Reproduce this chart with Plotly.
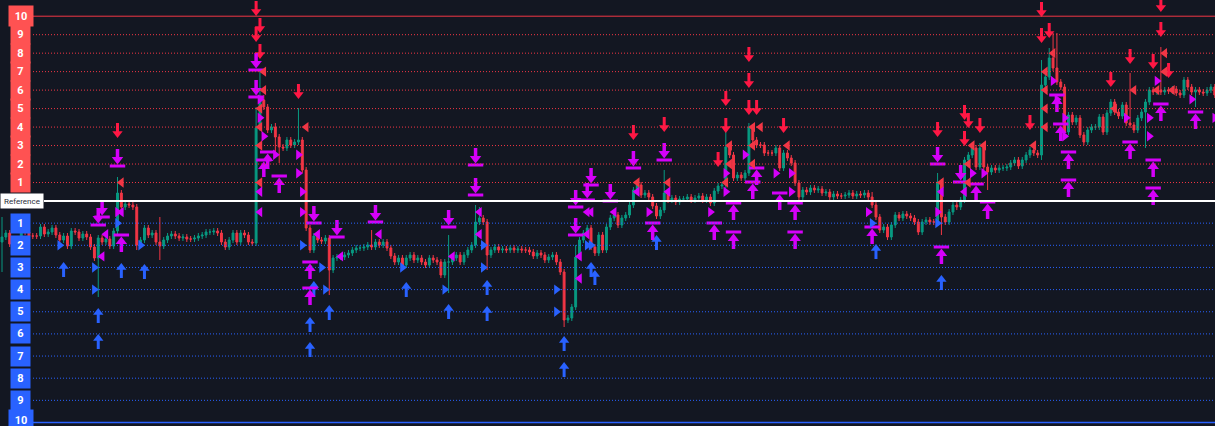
import plotly.graph_objects as go

# ---------------- data ----------------
REF = 100.0          # reference price
UP_STEP = 1.848      # distance between upper levels
DN_STEP = 2.215      # distance between lower levels

first_open = 95.9
closes = [
    96.4, 96.8, 95.7, 95.4, 96.0, 97.5, 96.9, 96.5, 96.5, 96.5,
    97.4, 96.7, 96.9, 97.3, 96.6, 96.1, 96.5, 95.5, 97.0, 96.9,
    96.3, 96.7, 96.4, 95.4, 94.3, 96.3, 95.9, 96.2, 95.5, 97.0,
    100.8, 99.4, 99.7, 99.6, 99.4, 95.6, 96.1, 97.3, 96.6, 96.8,
    95.9, 95.5, 96.1, 96.5, 96.7, 96.5, 96.3, 96.4, 96.2, 96.2,
    96.3, 96.5, 96.6, 96.9, 96.9, 97.0, 96.8, 95.9, 95.4, 96.1,
    96.8, 95.9, 96.8, 96.6, 95.9, 95.8, 107.3, 110.1, 109.4, 107.1,
    107.4, 106.4, 105.4, 105.3, 106.1, 105.6, 105.9, 106.1, 103.1, 97.3,
    95.1, 96.5, 96.1, 96.0, 96.3, 93.1, 94.3, 94.4, 94.4, 94.6,
    94.8, 95.1, 95.3, 95.3, 95.4, 95.6, 95.4, 95.9, 95.6, 95.9,
    95.3, 94.5, 93.9, 94.3, 93.6, 94.3, 94.6, 94.1, 94.3, 93.9,
    93.6, 94.3, 94.1, 93.9, 92.6, 93.9, 93.9, 94.3, 94.6, 93.9,
    94.6, 95.1, 95.6, 97.9, 98.3, 97.9, 94.6, 95.1, 95.4, 95.1,
    95.2, 95.1, 95.3, 95.1, 95.2, 95.1, 95.1, 94.9, 94.5, 94.8,
    94.6, 94.1, 94.4, 94.6, 93.9, 92.9, 88.1, 88.3, 89.4, 94.4,
    96.1, 96.8, 97.3, 95.4, 94.8, 96.6, 95.1, 97.4, 98.3, 98.6,
    97.6, 98.3, 98.6, 99.6, 101.1, 101.6, 100.6, 100.8, 100.4, 99.5,
    98.5, 99.1, 100.8, 100.1, 100.3, 99.9, 100.2, 100.2, 100.4, 100.1,
    100.3, 100.5, 100.1, 100.4, 99.8, 101.0, 101.5, 101.6, 105.4, 104.6,
    102.3, 102.6, 102.3, 102.8, 107.4, 106.1, 105.6, 105.6, 104.8, 104.8,
    104.8, 105.3, 103.3, 104.8, 104.3, 103.8, 101.8, 100.4, 101.1, 100.9,
    101.3, 101.1, 101.2, 100.8, 100.9, 100.4, 100.7, 100.5, 100.5, 100.6,
    100.8, 100.5, 100.7, 100.6, 100.8, 100.4, 99.6, 98.4, 97.1, 97.4,
    96.4, 97.6, 98.6, 98.3, 98.7, 98.5, 98.3, 97.9, 96.9, 97.9,
    98.1, 97.9, 97.9, 101.9, 98.4, 97.9, 98.9, 99.6, 99.4, 100.1,
    104.1, 104.6, 105.3, 103.4, 105.3, 103.4, 102.9, 103.3, 103.1, 103.3,
    103.3, 103.4, 103.8, 104.1, 103.5, 104.1, 104.6, 105.1, 104.8, 104.6,
    111.6, 112.4, 114.3, 113.3, 111.9, 111.4, 106.9, 108.6, 107.9, 108.3,
    106.6, 105.9, 107.1, 107.4, 107.4, 108.4, 106.9, 108.8, 109.9, 108.9,
    108.5, 109.6, 107.8, 107.6, 107.1, 108.3, 108.9, 109.9, 111.1, 110.9,
    111.1, 110.9, 111.1, 111.0, 111.2, 110.8, 110.6, 112.1, 111.4, 110.9,
    111.1, 110.9, 110.8, 111.1, 111.4, 110.6,
]
# candles whose wick clearly stands out
high_spikes = {0: 98.4, 30: 102.4, 41: 98.4, 66: 109.4, 67: 113.1, 68: 110.6,
               71: 107.8, 77: 109.3, 96: 97.1, 116: 96.6, 123: 99.6, 124: 99.4,
               149: 95.6, 172: 103.1, 188: 106.9, 194: 107.8, 226: 100.9,
               243: 102.8, 254: 105.8, 270: 114.1, 272: 115.3, 273: 116.8,
               274: 116.8, 293: 112.8, 301: 115.4}
low_spikes = {0: 92.9, 25: 90.4, 35: 95.1, 41: 94.1, 72: 103.8, 71: 104.4,
              85: 90.6, 116: 90.8, 126: 93.1, 146: 87.4, 244: 96.6, 256: 101.1,
              270: 104.1, 297: 105.3, 310: 109.4}
WICK = 0.3

# signal arrows: (bar index, price at the arrow tip / bar)
red_down = [(66, 118.5), (67, 116.8), (66, 115.9), (67, 114.2), (30, 106.3),
            (77, 110.2), (164, 106.1), (172, 106.9), (188, 109.5), (188, 106.8),
            (186, 103.4), (194, 113.9), (194, 111.3), (194, 108.6), (196, 108.6),
            (203, 106.8), (243, 106.4), (250, 108.1), (251, 107.3), (254, 106.8),
            (250, 105.5), (267, 107.1), (270, 118.4), (272, 116.3), (270, 115.8),
            (288, 111.4), (293, 113.7), (299, 113.2), (301, 118.9), (301, 116.4),
            (303, 112.3)]
blue_up = [(16, 93.9), (25, 89.3), (25, 86.7), (31, 93.8), (37, 93.7),
           (80, 88.4), (80, 85.9), (81, 92.0), (85, 89.6), (105, 91.9),
           (116, 89.7), (126, 92.1), (126, 89.5), (146, 86.5), (146, 83.9),
           (153, 93.9), (154, 93.1), (170, 96.6), (227, 95.7), (244, 92.6)]
mag_down = [(66, 113.1), (66, 110.4), (30, 103.5), (26, 98.4), (25, 97.6),
            (81, 97.8), (87, 96.4), (97, 97.9), (116, 97.4), (123, 103.6),
            (123, 100.6), (149, 99.4), (149, 96.6), (152, 100.1), (153, 101.6),
            (158, 100.0), (164, 103.3), (172, 104.1), (243, 103.7), (249, 101.9)]
mag_up = [(69, 104.9), (68, 104.1), (72, 102.5), (31, 96.6), (80, 93.9),
          (80, 91.3), (169, 97.8), (185, 97.8), (190, 99.8), (190, 96.9),
          (195, 101.9), (196, 103.3), (202, 100.8), (206, 99.8), (206, 96.9),
          (226, 97.4), (244, 95.4), (253, 101.7), (256, 99.9), (275, 107.7),
          (277, 104.9), (277, 102.1), (274, 110.6), (293, 105.9), (299, 104.1),
          (299, 101.3), (301, 109.7), (310, 108.9)]

# level touches: (bar index, level number; negative = lower levels)
red_left = [(68, 7), (68, 6), (67, 5), (67, 4), (67, 3), (67, 1), (31, 1), (79, 4),
            (165, 1), (173, 1), (188, 1), (189, 2), (189, 3), (195, 4), (197, 4),
            (195, 3), (195, 2), (204, 3), (244, 1), (251, 2), (251, 1), (252, 3),
            (255, 3), (268, 3), (271, 7), (271, 6), (271, 5), (271, 4), (273, 8),
            (294, 6), (289, 5), (302, 8), (302, 7), (300, 6), (304, 6)]
mag_left = [(67, 0.5), (67, -0.5), (31, -0.5), (27, -1.5), (26, -2.5), (82, -1.5),
            (88, -2.5), (98, -1.5), (117, -2.5), (124, -0.5), (124, -1.5),
            (152, -0.5), (153, -0.5), (159, -0.5), (152, -1.5), (150, -2.5),
            (150, -3.5), (165, 0.5), (173, 0.5), (244, 0.5), (250, 0.5)]
mag_right = [(67, 5.5), (67, 4.5), (68, 3.5), (71, 2.5), (77, 2.5), (77, 1.5),
             (78, 0.5), (78, -0.5), (30, -0.5), (168, -0.5), (184, -0.5),
             (188, 0.5), (188, 1.5), (193, 2.5), (201, 1.5), (205, 1.5),
             (205, 0.5), (225, -0.5), (243, -0.5), (252, 1.5), (255, 1.5),
             (273, 6.5), (274, 5.5), (276, 4.5), (276, 3.5), (292, 4.5),
             (298, 4.5), (298, 3.5), (300, 6.5), (309, 5.5), (315, 4.5)]
blue_right = [(15, -2), (24, -3), (24, -4), (30, -1), (36, -2), (78, -2), (83, -3),
              (84, -4), (104, -3), (115, -4), (125, -2), (125, -3), (144, -4),
              (144, -5), (152, -2), (153, -2), (226, -1), (243, -1)]

level_numbers = [1, 2, 3, 4, 5, 6, 7, 8, 9, 10]
ref_label = "Reference"

# ---------------- style ----------------
BG = "#131722"
GREEN = "#089981"
RED = "#f23645"
ARROW_RED = "#ff1744"
MAG = "#d500f9"
BLUE = "#2962ff"
LBL_RED = "#ff5252"
PX = 0.1   # price per screen pixel with the chosen axis range


def lvl(L):
    return REF + (UP_STEP * L if L >= 0 else DN_STEP * L)


n = len(closes)
xs = list(range(n))
opens = [first_open] + closes[:-1]
highs, lows = [], []
for i in xs:
    o, c = opens[i], closes[i]
    highs.append(max(high_spikes.get(i, max(o, c) + WICK), o, c))
    lows.append(min(low_spikes.get(i, min(o, c) - WICK), o, c))

fig = go.Figure()
fig.add_trace(go.Candlestick(
    x=xs, open=opens, high=highs, low=lows, close=closes,
    increasing=dict(line=dict(color=GREEN, width=1), fillcolor=GREEN),
    decreasing=dict(line=dict(color=RED, width=1), fillcolor=RED),
    hoverinfo="skip", whiskerwidth=0))


def shafts(points, d0, d1, color, width):
    x, y = [], []
    for i, p in points:
        x += [i, i, None]
        y += [p + d0 * PX, p + d1 * PX, None]
    fig.add_trace(go.Scatter(x=x, y=y, mode="lines", hoverinfo="skip",
                             line=dict(color=color, width=width)))


def marks(points, d, symbol, color, size, line=None):
    m = dict(symbol=symbol, size=size, color=color)
    if line:
        m["line"] = line
    fig.add_trace(go.Scatter(x=[i for i, _ in points],
                             y=[p + d * PX for _, p in points],
                             mode="markers", marker=m, hoverinfo="skip"))


# red down arrows (tip at price)
shafts(red_down, 15, 5, ARROW_RED, 3)
marks(red_down, 4.5, "triangle-down", ARROW_RED, 9)
# blue up arrows (tip at price)
shafts(blue_up, -15, -5, BLUE, 3)
marks(blue_up, -4.5, "triangle-up", BLUE, 9)
# magenta down arrows with bar below
shafts(mag_down, 17, 7, MAG, 3.5)
marks(mag_down, 6.5, "triangle-down", MAG, 10)
marks(mag_down, 0, "line-ew", MAG, 11, dict(color=MAG, width=3))
# magenta up arrows with bar above
shafts(mag_up, -17, -7, MAG, 3.5)
marks(mag_up, -6.5, "triangle-up", MAG, 10)
marks(mag_up, 0, "line-ew", MAG, 11, dict(color=MAG, width=3))

# level triangles
for pts, sym, col in [(red_left, "triangle-left", RED),
                      (mag_left, "triangle-left", MAG),
                      (mag_right, "triangle-right", MAG),
                      (blue_right, "triangle-right", BLUE)]:
    fig.add_trace(go.Scatter(x=[i for i, _ in pts], y=[lvl(L) for _, L in pts],
                             mode="markers", hoverinfo="skip",
                             marker=dict(symbol=sym, size=9, color=col)))

# level lines
X_START = 33 / 1215
shapes = []
for k in level_numbers:
    top = k == level_numbers[-1]
    shapes.append(dict(type="line", xref="paper", yref="y", x0=X_START, x1=1,
                       y0=lvl(k), y1=lvl(k),
                       line=dict(color=RED, width=1, dash="solid" if top else "1px,2px")))
    shapes.append(dict(type="line", xref="paper", yref="y", x0=X_START, x1=1,
                       y0=lvl(-k), y1=lvl(-k),
                       line=dict(color=BLUE, width=1.5 if top else 1,
                                 dash="solid" if top else "1px,2px")))
shapes.append(dict(type="line", xref="paper", yref="y", x0=44 / 1215, x1=1,
                   y0=REF, y1=REF, line=dict(color="#ffffff", width=2)))

# label boxes
ann = []
for k in level_numbers:
    big = k == level_numbers[-1]
    common = dict(x=21 / 1215, xref="paper", yref="y", xanchor="center",
                  yanchor="middle", showarrow=False, borderpad=0,
                  width=24 if big else 19, height=20 if big else 19,
                  font=dict(color="white", size=11, family="Roboto"))
    ann.append(dict(y=lvl(k), text="<b>%d</b>" % k, bgcolor=LBL_RED, **common))
    ann.append(dict(y=lvl(-k), text="<b>%d</b>" % k, bgcolor=BLUE,
                    yshift=3 if big else 0, **common))
ann.append(dict(x=22 / 1215, xref="paper", y=REF, yref="y", text=ref_label,
                xanchor="center", yanchor="middle",
                showarrow=False, bgcolor="#ffffff", width=42, height=14, borderpad=0,
                font=dict(color="#2a2e39", size=8, family="Roboto")))

fig.update_layout(
    width=1215, height=426, margin=dict(l=0, r=0, t=0, b=0),
    paper_bgcolor=BG, plot_bgcolor=BG, showlegend=False,
    shapes=shapes, annotations=ann,
    xaxis=dict(range=[-0.52, 315.06], visible=False, rangeslider=dict(visible=False),
               fixedrange=True),
    yaxis=dict(range=[77.5, 120.1], visible=False, fixedrange=True),
)

fig.write_html("out.html", config={"displayModeBar": False},
               post_script="document.body.style.margin='0';document.body.style.overflow='hidden';")
